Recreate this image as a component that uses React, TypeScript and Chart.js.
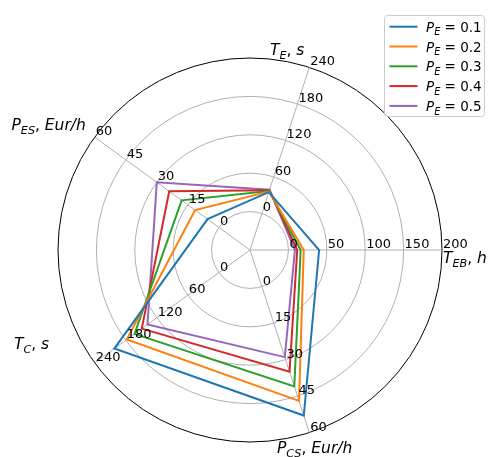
import React, { useEffect, useRef } from 'react';
import { Chart, registerables } from 'chart.js';

Chart.register(...registerables);

// ---- data ----
// natural axis order (counter-clockwise from the right): T_EB, T_E, P_ES, T_C, P_CS
const axisSymbols = ['T', 'T', 'P', 'T', 'P'];
const axisSubs = ['EB', 'E', 'ES', 'C', 'CS'];
const axisUnits = ['h', 's', 'Eur/h', 's', 'Eur/h'];

const tebTicks = [0, 50, 100, 150, 200];
const teTicks = [0, 60, 120, 180, 240];
const pesTicks = [0, 15, 30, 45, 60];
const tcTicks = [0, 60, 120, 180, 240];
const pcsTicks = [0, 15, 30, 45, 60];
const axisTicks = [tebTicks, teTicks, pesTicks, tcTicks, pcsTicks];

const peLabels = ['0.1', '0.2', '0.3', '0.4', '0.5'];
// values per series: [T_EB, T_E, P_ES, T_C, P_CS]
const seriesPE01 = [40, 35, 5.5, 202, 53];
const seriesPE02 = [20, 36, 11.5, 178, 47];
const seriesPE03 = [16, 37, 18, 163, 41];
const seriesPE04 = [11.5, 38, 24, 149, 35];
const seriesPE05 = [8.5, 39, 30, 138, 29];
const allSeries = [seriesPE01, seriesPE02, seriesPE03, seriesPE04, seriesPE05];
const seriesColors = ['#1f77b4', '#ff7f0e', '#2ca02c', '#d62728', '#9467bd'];

// Chart.js goes clockwise from startAngle; map chart slot -> natural axis
const chartOrder = [0, 4, 3, 2, 1];

// ---- layout (label anchor offsets from centre: left x, baseline y) ----
const axisLabelOffsets = [
  { dx: 193, dy: 13 },
  { dx: 20, dy: -195.5 },
  { dx: -238.5, dy: -120 },
  { dx: -236, dy: 99 },
  { dx: 27, dy: 202.5 },
];

const FONT = '"DejaVu Sans", sans-serif';

type Seg = { t: string; it?: boolean; sub?: boolean };

function segFont(s: Seg, size: number) {
  const fs = s.sub ? size * 0.72 : size;
  return `${s.it ? 'italic ' : ''}${fs}px ${FONT}`;
}
function drawSegs(ctx: CanvasRenderingContext2D, segs: Seg[], x: number, y: number, size: number) {
  let cx = x;
  ctx.textAlign = 'left';
  ctx.textBaseline = 'alphabetic';
  for (const s of segs) {
    ctx.font = segFont(s, size);
    ctx.fillText(s.t, cx, s.sub ? y + size * 0.27 : y);
    cx += ctx.measureText(s.t).width;
  }
}

const norm = (v: number, axis: number) => 1 + (4 * v) / axisTicks[axis][axisTicks[axis].length - 1];

const overlayPlugin = {
  id: 'overlay',
  afterDatasetsDraw(chart: any) {
    const ctx: CanvasRenderingContext2D = chart.ctx;
    const scale = chart.scales.r;
    const cx = scale.xCenter;
    const cy = scale.yCenter;
    ctx.save();
    ctx.fillStyle = '#000';
    // tick labels along each axis
    for (let slot = 0; slot < chartOrder.length; slot++) {
      const a = chartOrder[slot];
      axisTicks[a].forEach((t, k) => {
        const d = scale.getDistanceFromCenterForValue(k + 1);
        const p = scale.getPointPosition(slot, d);
        ctx.font = `13px ${FONT}`;
        ctx.textAlign = 'left';
        ctx.textBaseline = 'alphabetic';
        ctx.fillText(String(t), p.x + 1, p.y - 2);
      });
    }
    // axis names
    for (let a = 0; a < axisSymbols.length; a++) {
      const segs: Seg[] = [
        { t: axisSymbols[a], it: true },
        { t: axisSubs[a], it: true, sub: true },
        { t: ', ' },
        { t: axisUnits[a], it: true },
      ];
      const o = axisLabelOffsets[a];
      drawSegs(ctx, segs, cx + o.dx, cy + o.dy, 15.5);
    }
    // legend
    const lx = 384.5, ly = 15.5, lw = 100, lh = 101;
    ctx.beginPath();
    (ctx as any).roundRect(lx, ly, lw, lh, 3);
    ctx.fillStyle = 'rgba(255,255,255,0.8)';
    ctx.fill();
    ctx.strokeStyle = '#cccccc';
    ctx.lineWidth = 1;
    ctx.stroke();
    peLabels.forEach((lab, i) => {
      const y = 26.7 + i * 19.8;
      ctx.beginPath();
      ctx.moveTo(389.5, y);
      ctx.lineTo(417.5, y);
      ctx.strokeStyle = seriesColors[i];
      ctx.lineWidth = 2;
      ctx.stroke();
      ctx.fillStyle = '#000';
      drawSegs(ctx, [{ t: 'P', it: true }, { t: 'E', it: true, sub: true }, { t: ' = ' + lab }], 426, y + 5, 13.5);
    });
    ctx.restore();
  },
};

export default function App() {
  const ref = useRef<HTMLCanvasElement>(null);
  useEffect(() => {
    if (!ref.current) return;
    Chart.defaults.font.family = FONT;
    const chart = new Chart(ref.current, {
      type: 'radar',
      data: {
        labels: chartOrder.map((a) => axisSymbols[a] + '_' + axisSubs[a] + ', ' + axisUnits[a]),
        datasets: allSeries.map((s, i) => ({
          label: 'P_E = ' + peLabels[i],
          data: chartOrder.map((a) => norm(s[a], a)),
          borderColor: seriesColors[i],
          backgroundColor: seriesColors[i],
          borderWidth: 2,
          fill: false,
          pointRadius: 0,
          tension: 0,
        })),
      },
      options: {
        responsive: false,
        animation: false,
        devicePixelRatio: 1,
        layout: { padding: { left: 58, right: 48, top: 58, bottom: 15 } },
        plugins: { legend: { display: false }, tooltip: { enabled: false } },
        scales: {
          r: {
            min: 0,
            max: 5,
            startAngle: 90,
            ticks: { display: false, stepSize: 1 },
            pointLabels: { display: false },
            grid: {
              circular: true,
              color: (c: any) => (c.tick && c.tick.value === 5 ? '#000000' : '#b0b0b0'),
              lineWidth: 1,
            },
            angleLines: { color: '#b0b0b0', lineWidth: 1 },
          },
        },
      },
      plugins: [overlayPlugin],
    });
    return () => chart.destroy();
  }, []);
  return (
    <div style={{ position: 'absolute', left: 0, top: 0, width: 490, height: 457 }}>
      <canvas ref={ref} width={490} height={457} />
    </div>
  );
}
